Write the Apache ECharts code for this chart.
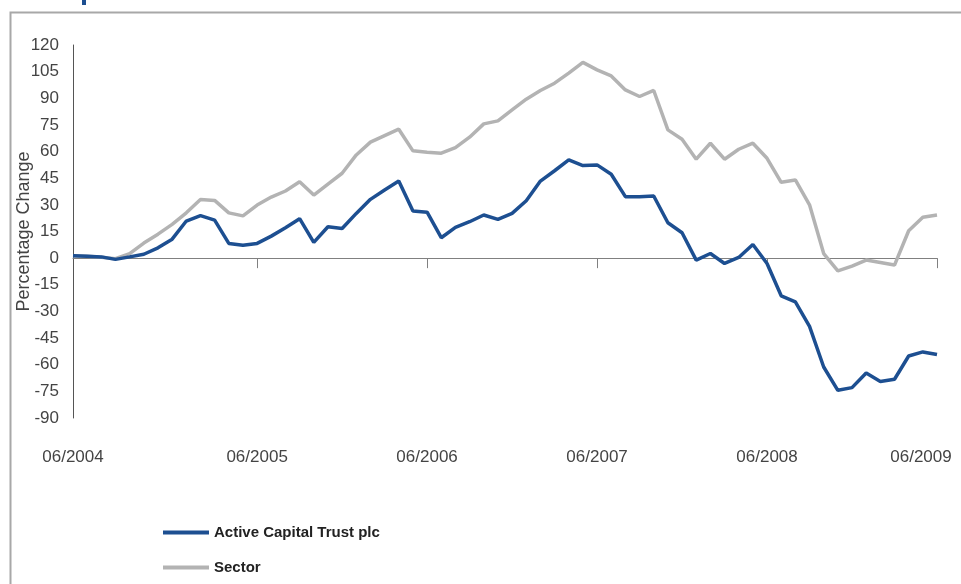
<!DOCTYPE html>
<html>
<head>
<meta charset="utf-8">
<script src="https://cdn.jsdelivr.net/npm/echarts@6/dist/echarts.min.js"></script>
<style>
html,body{margin:0;padding:0;background:#fff;}
#chart{width:961px;height:584px;}
</style>
</head>
<body>
<div id="chart"></div>
<script>
// Monthly points (index 0 = start, index 61 = 06/2009)
const trustValues = [1.3, 1.0, 0.7, -0.7, 0.7, 2.2, 5.8, 10.7, 20.9, 23.9, 21.4, 8.3, 7.3, 8.3, 12.4, 17.1, 22.2, 8.9, 17.7, 16.7, 25.2, 33.1, 38.4, 43.4, 26.5, 25.9, 11.5, 17.3, 20.5, 24.3, 21.8, 25.2, 32.3, 43.4, 49.2, 55.3, 52.1, 52.5, 47.2, 34.6, 34.6, 35.0, 19.9, 14.3, -1.1, 2.6, -3.0, 0.4, 7.7, -3.0, -21.2, -24.6, -38.4, -61.3, -74.4, -72.9, -64.7, -69.4, -68.2, -55.1, -52.8, -54.3];
const sectorValues = [1.3, 1.0, 0.5, -0.3, 2.5, 8.5, 13.5, 19.0, 25.5, 33.0, 32.5, 25.5, 23.8, 29.9, 34.4, 37.8, 43.0, 35.5, 41.7, 47.8, 58.1, 65.3, 69.0, 72.6, 60.4, 59.6, 59.1, 62.2, 68.1, 75.6, 77.3, 83.5, 89.5, 94.4, 98.5, 104.2, 110.2, 106.0, 102.6, 94.7, 91.0, 94.4, 72.2, 66.9, 55.7, 64.7, 55.7, 61.3, 64.7, 56.2, 42.7, 44.0, 30.0, 2.6, -7.2, -4.5, -1.1, -2.4, -3.9, 15.4, 23.0, 24.3];
const tickPositions = [0, 13, 25, 37, 49, 61];
const tickLabels = ['06/2004', '06/2005', '06/2006', '06/2007', '06/2008', '06/2009'];
const seriesNames = ['Active Capital Trust plc', 'Sector'];
const yTickValues = [-90, -75, -60, -45, -30, -15, 0, 15, 30, 45, 60, 75, 90, 105, 120];

const chart = echarts.init(document.getElementById('chart'), null, {renderer: 'canvas'});
const FONT = 'Liberation Sans';
const lastIdx = trustValues.length - 1;

const option = {
  animation: false,
  backgroundColor: '#ffffff',
  grid: {left: 73, right: 24, top: 45, bottom: 166, containLabel: false, outerBoundsMode: 'none'},
  graphic: [
    {type: 'rect', left: 8, top: 10, z: -10,
      shape: {width: 1000, height: 1000},
      style: {fill: 'none', stroke: '#a8a8a8', lineWidth: 2}},
    {type: 'rect', left: 82, top: 0, z: -10,
      shape: {width: 4, height: 5},
      style: {fill: '#1d4f91'}}
  ],
  legend: {
    orient: 'vertical',
    left: 163,
    top: 525,
    padding: 0,
    itemWidth: 46,
    itemHeight: 4,
    itemGap: 20,
    icon: 'rect',
    data: seriesNames,
    textStyle: {fontFamily: FONT, fontSize: 15, fontWeight: 'bold', color: '#222'}
  },
  xAxis: [
    {
      type: 'value', min: 0, max: lastIdx, position: 'bottom',
      axisLine: {show: true, onZero: true, lineStyle: {color: '#808080', width: 1}},
      axisTick: {show: true, length: 10, customValues: tickPositions.slice(1), lineStyle: {color: '#808080'}},
      axisLabel: {show: false},
      splitLine: {show: false}
    },
    {
      type: 'value', min: 0, max: lastIdx, position: 'bottom',
      axisLine: {show: false, onZero: false},
      axisTick: {show: false},
      splitLine: {show: false},
      axisLabel: {
        show: true, margin: 31,
        customValues: tickPositions,
        fontFamily: FONT, fontSize: 17, color: '#444',
        formatter: function (v) {
          const k = tickPositions.indexOf(Math.round(v));
          if (k < 0) return '';
          if (k === tickPositions.length - 1) return '{r|' + tickLabels[k] + '}';
          return tickLabels[k];
        },
        rich: {r: {fontFamily: FONT, fontSize: 17, color: '#444', padding: [0, 32, 0, 0]}}
      }
    }
  ],
  yAxis: {
    type: 'value', min: -90, max: 120, interval: 15,
    name: 'Percentage Change',
    nameLocation: 'middle',
    nameGap: 40,
    nameRotate: 90,
    nameMoveOverlap: false,
    nameTextStyle: {fontFamily: FONT, fontSize: 18, color: '#444'},
    axisLine: {show: true, onZero: false, lineStyle: {color: '#555', width: 1}},
    axisTick: {show: false},
    splitLine: {show: false},
    axisLabel: {margin: 14, fontFamily: FONT, fontSize: 17, color: '#444',
      formatter: function (v) { return yTickValues.indexOf(v) >= 0 ? String(v) : ''; }}
  },
  series: [
    {
      name: seriesNames[1], type: 'line', xAxisIndex: 0, z: 2,
      symbol: 'none', color: '#b3b3b3',
      lineStyle: {color: '#b3b3b3', width: 3.5},
      data: sectorValues.map((v, i) => [i, v])
    },
    {
      name: seriesNames[0], type: 'line', xAxisIndex: 0, z: 3,
      symbol: 'none', color: '#1d4f91',
      lineStyle: {color: '#1d4f91', width: 3.5},
      data: trustValues.map((v, i) => [i, v])
    }
  ]
};
chart.setOption(option);
</script>
</body>
</html>
